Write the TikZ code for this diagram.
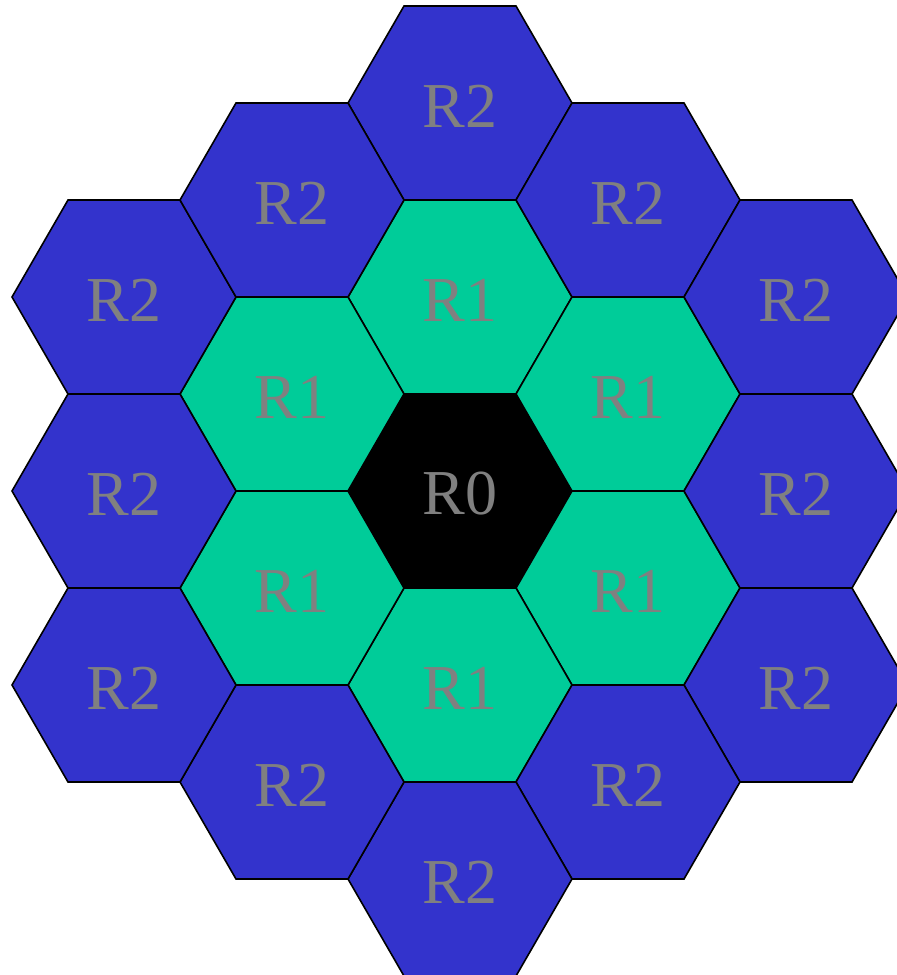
\documentclass[tikz,border=0pt]{standalone}
\usepackage{fontspec}
\setmainfont{Liberation Serif}
\definecolor{bluehex}{RGB}{51,51,204}
\definecolor{greenhex}{RGB}{0,204,153}
\definecolor{labelgray}{RGB}{128,128,128}
\begin{document}
\begin{tikzpicture}[x=1pt,y=-1pt,
  hexcell/.style={draw=black,line width=1.6pt,line join=miter},
  lbl/.style={text=labelgray,font=\fontsize{64}{64}\selectfont,inner sep=0pt}]
\useasboundingbox (0,0) rectangle (897,975);
\clip (0,0) rectangle (897,975);
\foreach \n/\i/\j/\c/\t in {
  c0/0/0/black/R0,
  a1/0/-2/greenhex/R1, a2/1/-1/greenhex/R1, a3/1/1/greenhex/R1,
  a4/0/2/greenhex/R1, a5/-1/1/greenhex/R1, a6/-1/-1/greenhex/R1,
  b1/0/-4/bluehex/R2, b2/1/-3/bluehex/R2, b3/2/-2/bluehex/R2,
  b4/2/0/bluehex/R2, b5/2/2/bluehex/R2, b6/1/3/bluehex/R2,
  b7/0/4/bluehex/R2, b8/-1/3/bluehex/R2, b9/-2/2/bluehex/R2,
  b10/-2/0/bluehex/R2, b11/-2/-2/bluehex/R2, b12/-1/-3/bluehex/R2} {
  \path[hexcell,fill=\c,shift={(460+168*\i,491+97*\j)}]
    (0:112) -- (60:112) -- (120:112) -- (180:112) -- (240:112) -- (300:112) -- cycle;
  \node[lbl] (\n) at (460+168*\i,494+97*\j) {\t};
}
\end{tikzpicture}
\end{document}
